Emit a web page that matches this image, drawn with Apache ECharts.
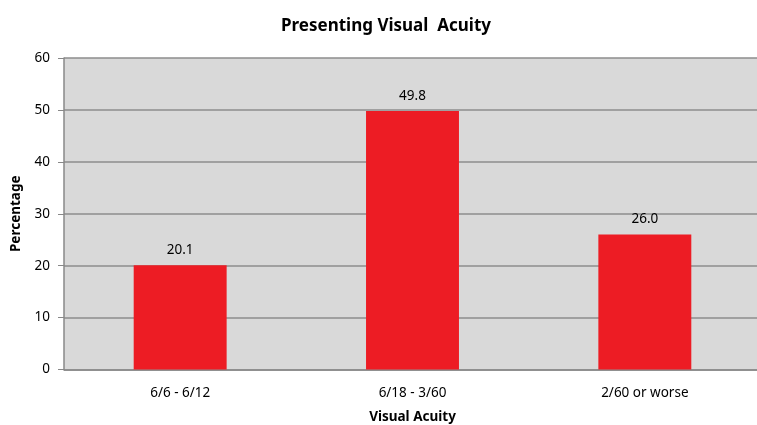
<!DOCTYPE html>
<html><head><meta charset="utf-8">
<script src="https://cdn.jsdelivr.net/npm/echarts@6/dist/echarts.min.js"></script>
<style>html,body{margin:0;padding:0;background:#fff}#c{width:757px;height:425px}</style>
</head><body><div id="c"></div>
<script>
const categories = ['6/6 - 6/12', '6/18 - 3/60', '2/60 or worse'];
const values = [20.1, 49.8, 26.0];
const chart = echarts.init(document.getElementById('c'));
chart.setOption({
  animation: false,
  title: { text: 'Presenting Visual  Acuity', left: 381, top: 13, textAlign: 'center',
    textStyle: { fontFamily: 'Noto Sans', fontSize: 17, fontWeight: 'bold', color: '#000' } },
  grid: { left: 64, right: -4, top: 58, bottom: 55.5, outerBoundsMode: 'none', containLabel: false,
    show: true, backgroundColor: '#d9d9d9', borderWidth: 0 },
  xAxis: { type: 'category', data: categories,
    name: 'Visual Acuity', nameLocation: 'middle', nameGap: 41,
    nameTextStyle: { fontFamily: 'Noto Sans', fontSize: 13.5, fontWeight: 'bold', color: '#000' },
    axisLine: { lineStyle: { color: '#888', width: 1.5 } }, axisTick: { show: false },
    axisLabel: { fontFamily: 'Noto Sans', fontSize: 13.5, color: '#000', margin: 17 } },
  yAxis: { type: 'value', min: 0, max: 60, interval: 10,
    name: 'Percentage', nameLocation: 'middle', nameGap: 34,
    nameTextStyle: { fontFamily: 'Noto Sans', fontSize: 13.5, fontWeight: 'bold', color: '#000' },
    axisLine: { show: true, lineStyle: { color: '#888', width: 1.5 } },
    axisTick: { show: true, inside: false, length: 6, lineStyle: { color: '#888' } },
    splitLine: { lineStyle: { color: '#8c8c8c', width: 1.5 } },
    axisLabel: { fontFamily: 'Noto Sans', fontSize: 13.5, color: '#000', margin: 14 } },
  series: [{ type: 'bar', data: values, barWidth: '40%',
    itemStyle: { color: '#ed1c24' },
    label: { show: true, position: 'top', distance: 8, formatter: p => p.value.toFixed(1),
      fontFamily: 'Noto Sans', fontSize: 13.5, color: '#000' } }]
});
</script></body></html>
